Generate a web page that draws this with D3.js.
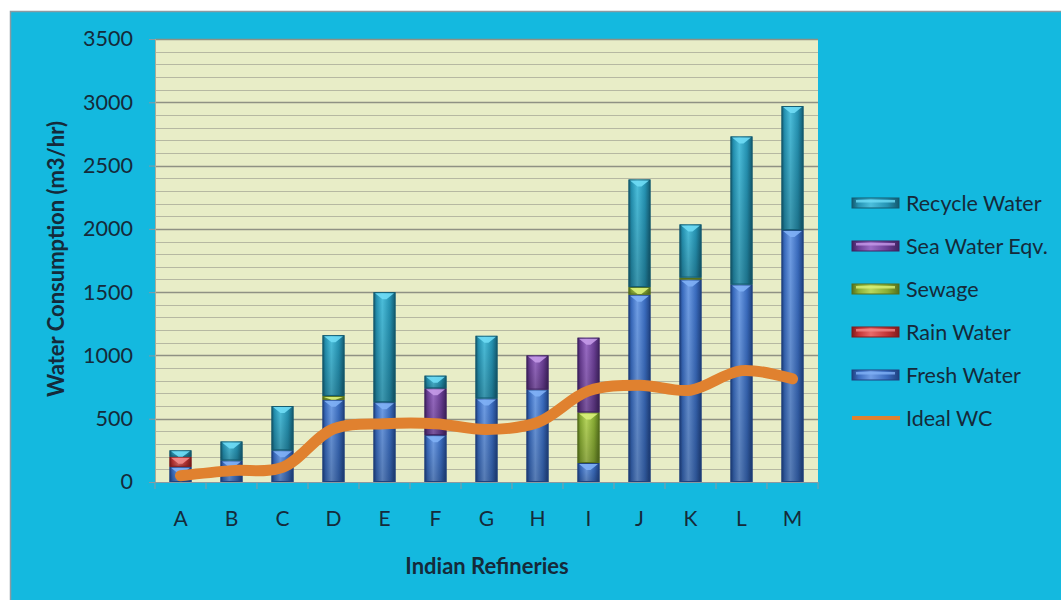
<!DOCTYPE html>
<html>
<head>
<meta charset="utf-8">
<script src="https://cdn.jsdelivr.net/npm/d3@7"></script>
<style>
  html, body { margin: 0; padding: 0; background: #ffffff; }
  svg { display: block; font-family: Lato, "Open Sans", sans-serif; }
</style>
</head>
<body>
<svg id="chart" width="1061" height="600"></svg>
<script>
// Refinery water consumption by source (m3/hr)
const categories   = ["A","B","C","D","E","F","G","H","I","J","K","L","M"];
const freshWater   = [120, 170, 250, 650, 630, 370, 660, 730, 150, 1480, 1600, 1560, 1990];
const rainWater    = [80,  0,   0,   0,   0,   0,   0,   0,   0,   0,    0,    0,    0];
const sewage       = [0,   0,   0,   30,  0,   0,   0,   0,   400, 60,   15,   0,    0];
const seaWaterEqv  = [0,   0,   0,   0,   0,   370, 0,   270, 590, 0,    0,    0,    0];
const recycleWater = [50,  150, 350, 480, 870, 100, 495, 0,   0,   850,  420,  1170, 980];
const idealWC      = [50,  90,  115, 420, 460, 460, 415, 470, 720, 765,  725,  880,  815];
const yTicks       = [0, 500, 1000, 1500, 2000, 2500, 3000, 3500];

const seriesNames = ["Fresh Water", "Rain Water", "Sewage", "Sea Water Eqv.", "Recycle Water"];
const seriesData  = [freshWater, rainWater, sewage, seaWaterEqv, recycleWater];
const palette = {
  "Fresh Water":    { base: "#3a6cbf", light: "#6f9ee6", dark: "#1f4180", cap: "#7fb0f5" },
  "Rain Water":     { base: "#c23436", light: "#e86a6a", dark: "#7f1b1d", cap: "#f08a8a" },
  "Sewage":         { base: "#8aae35", light: "#b9d85e", dark: "#55701c", cap: "#d8f07a" },
  "Sea Water Eqv.": { base: "#6b3f96", light: "#9a6cc6", dark: "#3f2260", cap: "#c49ae8" },
  "Recycle Water":  { base: "#2593b3", light: "#4cbfdc", dark: "#135a70", cap: "#6fdcf5" }
};

const svg = d3.select("#chart");
const W = 1061, H = 600;
const plot = { left: 155, right: 818, top: 39, bottom: 482 };
const textColor = "#152a3a";

// Chart background with thin grey frame
svg.append("rect").attr("x", 10.5).attr("y", 11.5).attr("width", W).attr("height", H)
  .attr("fill", "#14b9df").attr("stroke", "#8a9aa2").attr("stroke-width", 1.5);

const x = d3.scaleBand().domain(categories).range([plot.left, plot.right]).paddingInner(0).paddingOuter(0);
const y = d3.scaleLinear().domain([0, 3500]).range([plot.bottom, plot.top]);
const barW = x.bandwidth() * 0.43;

// Plot area
svg.append("rect").attr("x", plot.left).attr("y", plot.top)
  .attr("width", plot.right - plot.left).attr("height", plot.bottom - plot.top)
  .attr("fill", "#e8edc7");

// Minor gridlines every 100, major every 500
const grid = svg.append("g");
d3.range(100, 3501, 100).forEach(v => {
  const major = v % 500 === 0;
  grid.append("line")
    .attr("x1", plot.left).attr("x2", plot.right)
    .attr("y1", Math.round(y(v)) + 0.5).attr("y2", Math.round(y(v)) + 0.5)
    .attr("stroke", major ? "#8f9184" : "#b6b8a2")
    .attr("stroke-width", major ? 1.4 : 1.2);
});
svg.append("line").attr("x1", plot.left + 0.5).attr("x2", plot.left + 0.5)
  .attr("y1", plot.top).attr("y2", plot.bottom).attr("stroke", "#a9ab98");

// Gradients for bevelled bars
const defs = svg.append("defs");
seriesNames.forEach((name, i) => {
  const c = palette[name];
  const g = defs.append("linearGradient").attr("id", "grad" + i)
    .attr("x1", "0").attr("x2", "1").attr("y1", "0").attr("y2", "0");
  g.append("stop").attr("offset", "0%").attr("stop-color", c.dark);
  g.append("stop").attr("offset", "14%").attr("stop-color", c.base);
  g.append("stop").attr("offset", "40%").attr("stop-color", c.light);
  g.append("stop").attr("offset", "75%").attr("stop-color", c.base);
  g.append("stop").attr("offset", "100%").attr("stop-color", c.dark);
  const v = defs.append("linearGradient").attr("id", "shade" + i)
    .attr("x1", "0").attr("x2", "0").attr("y1", "0").attr("y2", "1");
  v.append("stop").attr("offset", "0%").attr("stop-color", "#000").attr("stop-opacity", 0);
  v.append("stop").attr("offset", "100%").attr("stop-color", "#000").attr("stop-opacity", 0.22);
});

// Stacked bars
const rows = categories.map((cat, j) => {
  const r = { cat };
  seriesNames.forEach((n, i) => { r[n] = seriesData[i][j]; });
  return r;
});
const stacked = d3.stack().keys(seriesNames)(rows);

const bars = svg.append("g");
stacked.forEach((layer, i) => {
  const c = palette[layer.key];
  layer.forEach((d, j) => {
    if (d[1] - d[0] <= 0) return;
    const x0 = x(categories[j]) + (x.bandwidth() - barW) / 2;
    const yTop = y(d[1]), yBot = y(d[0]);
    const h = yBot - yTop;
    const seg = bars.append("g");
    seg.append("rect").attr("x", x0).attr("y", yTop).attr("width", barW).attr("height", h)
      .attr("fill", `url(#grad${i})`);
    seg.append("rect").attr("x", x0).attr("y", yTop).attr("width", barW).attr("height", h)
      .attr("fill", `url(#shade${i})`);
    seg.append("rect").attr("x", x0 + 0.5).attr("y", yTop + 0.5).attr("width", barW - 1).attr("height", Math.max(h - 1, 0))
      .attr("fill", "none").attr("stroke", c.dark).attr("stroke-width", 1);
    // top bevel highlight
    const capH = Math.min(6, h - 1);
    if (capH > 1.5) {
      seg.append("polygon")
        .attr("points", [
          [x0 + 1.5, yTop + 1], [x0 + barW - 1.5, yTop + 1],
          [x0 + barW / 2 + 2, yTop + 1 + capH], [x0 + barW / 2 - 2, yTop + 1 + capH]
        ].map(p => p.join(",")).join(" "))
        .attr("fill", c.cap).attr("opacity", 0.9);
    }
  });
});

// Ideal water consumption line
const line = d3.line()
  .x((d, j) => x(categories[j]) + x.bandwidth() / 2)
  .y(d => y(d))
  .curve(d3.curveCatmullRom.alpha(0.5));
svg.append("path").datum(idealWC).attr("d", line)
  .attr("fill", "none").attr("stroke", "#e0812f").attr("stroke-width", 11)
  .attr("stroke-linecap", "round").attr("stroke-linejoin", "round");

// Y axis
const yAxis = svg.append("g").attr("transform", `translate(${plot.left},0)`)
  .call(d3.axisLeft(y).tickValues(yTicks).tickFormat(d3.format("d")).tickSize(6).tickPadding(16));
yAxis.select(".domain").remove();
yAxis.selectAll(".tick line").attr("stroke", "#8a9aa2");
yAxis.selectAll(".tick text").attr("font-size", 21.5).attr("fill", textColor)
  .attr("font-family", "Lato, sans-serif");

// X axis
const xAxis = svg.append("g").attr("transform", `translate(0,${plot.bottom})`)
  .call(d3.axisBottom(x).tickSize(0).tickPadding(29));
xAxis.select(".domain").attr("stroke", "#8a9aa2").attr("stroke-width", 1.2);
xAxis.selectAll(".tick text").attr("font-size", 21).attr("fill", textColor)
  .attr("font-family", "Lato, sans-serif");
categories.concat([null]).forEach((c, j) => {
  const xx = plot.left + j * x.bandwidth();
  svg.append("line").attr("x1", xx).attr("x2", xx).attr("y1", plot.bottom).attr("y2", plot.bottom + 7)
    .attr("stroke", "#8a9aa2");
});

// Axis titles
svg.append("text").attr("x", 487).attr("y", 574).attr("text-anchor", "middle")
  .attr("font-size", 22).attr("font-weight", "bold").attr("fill", textColor)
  .text("Indian Refineries");
svg.append("text").attr("transform", "translate(64,259) rotate(-90)").attr("text-anchor", "middle")
  .attr("font-size", 22).attr("font-weight", "bold").attr("fill", textColor)
  .text("Water Consumption (m3/hr)");

// Legend
const legendItems = ["Recycle Water", "Sea Water Eqv.", "Sewage", "Rain Water", "Fresh Water"];
const legend = svg.append("g");
legendItems.forEach((name, k) => {
  const i = seriesNames.indexOf(name);
  const c = palette[name];
  const ly = 203 + k * 43;
  legend.append("rect").attr("x", 852).attr("y", ly - 5).attr("width", 47).attr("height", 10)
    .attr("fill", `url(#grad${i})`).attr("stroke", c.dark).attr("stroke-width", 1);
  legend.append("rect").attr("x", 856).attr("y", ly - 3).attr("width", 39).attr("height", 2.5)
    .attr("fill", c.cap).attr("opacity", 0.8);
  legend.append("text").attr("x", 906).attr("y", ly).attr("dy", "0.35em")
    .attr("font-size", 21.5).attr("fill", textColor).text(name);
});
legend.append("line").attr("x1", 852).attr("x2", 900).attr("y1", 418).attr("y2", 418)
  .attr("stroke", "#e0812f").attr("stroke-width", 4);
legend.append("text").attr("x", 906).attr("y", 418).attr("dy", "0.35em")
  .attr("font-size", 21.5).attr("fill", textColor).text("Ideal WC");
</script>
</body>
</html>
